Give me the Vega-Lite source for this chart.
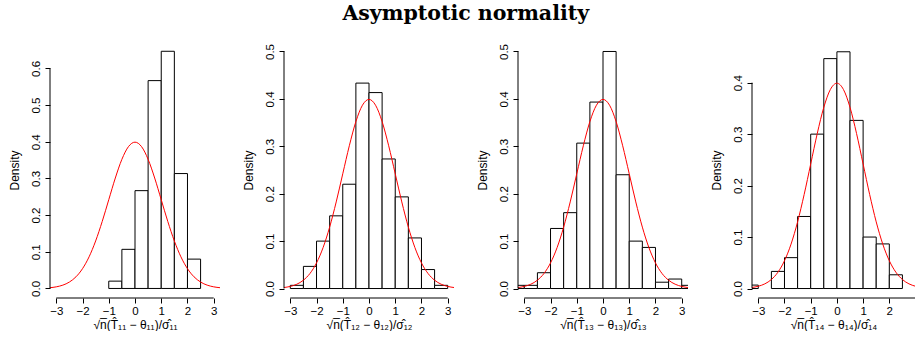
{
  "$schema": "https://vega.github.io/schema/vega-lite/v6.json",
  "padding": {"left": 8, "top": 3, "right": 0, "bottom": 0},
  "spacing": 64,
  "bounds": "flush",
  "title": {"text": "Asymptotic normality", "font": "DejaVu Serif", "fontSize": 20.5, "fontWeight": "bold", "color": "black", "anchor": "middle", "offset": 18, "dx": 4},
  "config": {"view": {"stroke": null}},
  "datasets": {
    "bars": [
      {"panel": 1, "lo": -1, "hi": -0.5, "density": 0.02},
      {"panel": 1, "lo": -0.5, "hi": 0, "density": 0.1067},
      {"panel": 1, "lo": 0, "hi": 0.5, "density": 0.2667},
      {"panel": 1, "lo": 0.5, "hi": 1, "density": 0.5667},
      {"panel": 1, "lo": 1, "hi": 1.5, "density": 0.6467},
      {"panel": 1, "lo": 1.5, "hi": 2, "density": 0.3133},
      {"panel": 1, "lo": 2, "hi": 2.5, "density": 0.08},
      {"panel": 2, "lo": -3, "hi": -2.5, "density": 0.0067},
      {"panel": 2, "lo": -2.5, "hi": -2, "density": 0.0467},
      {"panel": 2, "lo": -2, "hi": -1.5, "density": 0.1},
      {"panel": 2, "lo": -1.5, "hi": -1, "density": 0.1533},
      {"panel": 2, "lo": -1, "hi": -0.5, "density": 0.22},
      {"panel": 2, "lo": -0.5, "hi": 0, "density": 0.4333},
      {"panel": 2, "lo": 0, "hi": 0.5, "density": 0.4133},
      {"panel": 2, "lo": 0.5, "hi": 1, "density": 0.2733},
      {"panel": 2, "lo": 1, "hi": 1.5, "density": 0.1933},
      {"panel": 2, "lo": 1.5, "hi": 2, "density": 0.1067},
      {"panel": 2, "lo": 2, "hi": 2.5, "density": 0.04},
      {"panel": 2, "lo": 2.5, "hi": 3, "density": 0.0067},
      {"panel": 3, "lo": -3.5, "hi": -3, "density": 0.0067},
      {"panel": 3, "lo": -3, "hi": -2.5, "density": 0.0067},
      {"panel": 3, "lo": -2.5, "hi": -2, "density": 0.0333},
      {"panel": 3, "lo": -2, "hi": -1.5, "density": 0.1267},
      {"panel": 3, "lo": -1.5, "hi": -1, "density": 0.16},
      {"panel": 3, "lo": -1, "hi": -0.5, "density": 0.3067},
      {"panel": 3, "lo": -0.5, "hi": 0, "density": 0.3933},
      {"panel": 3, "lo": 0, "hi": 0.5, "density": 0.5},
      {"panel": 3, "lo": 0.5, "hi": 1, "density": 0.24},
      {"panel": 3, "lo": 1, "hi": 1.5, "density": 0.1},
      {"panel": 3, "lo": 1.5, "hi": 2, "density": 0.0867},
      {"panel": 3, "lo": 2, "hi": 2.5, "density": 0.0133},
      {"panel": 3, "lo": 2.5, "hi": 3, "density": 0.02},
      {"panel": 3, "lo": 3, "hi": 3.5, "density": 0.0067},
      {"panel": 4, "lo": -3.5, "hi": -3, "density": 0.0067},
      {"panel": 4, "lo": -2.5, "hi": -2, "density": 0.0333},
      {"panel": 4, "lo": -2, "hi": -1.5, "density": 0.06},
      {"panel": 4, "lo": -1.5, "hi": -1, "density": 0.14},
      {"panel": 4, "lo": -1, "hi": -0.5, "density": 0.3},
      {"panel": 4, "lo": -0.5, "hi": 0, "density": 0.4467},
      {"panel": 4, "lo": 0, "hi": 0.5, "density": 0.46},
      {"panel": 4, "lo": 0.5, "hi": 1, "density": 0.3267},
      {"panel": 4, "lo": 1, "hi": 1.5, "density": 0.1},
      {"panel": 4, "lo": 1.5, "hi": 2, "density": 0.0867},
      {"panel": 4, "lo": 2, "hi": 2.5, "density": 0.0267}
    ],
    "curve": [
      {"x": -3.5, "y": 0.00087}, {"x": -3.25, "y": 0.00203}, {"x": -3, "y": 0.00443}, {"x": -2.75, "y": 0.00909},
      {"x": -2.5, "y": 0.01753}, {"x": -2.25, "y": 0.03174}, {"x": -2, "y": 0.05399}, {"x": -1.75, "y": 0.08628},
      {"x": -1.5, "y": 0.12952}, {"x": -1.25, "y": 0.18265}, {"x": -1, "y": 0.24197}, {"x": -0.75, "y": 0.30114},
      {"x": -0.5, "y": 0.35207}, {"x": -0.25, "y": 0.38667}, {"x": 0, "y": 0.39894}, {"x": 0.25, "y": 0.38667},
      {"x": 0.5, "y": 0.35207}, {"x": 0.75, "y": 0.30114}, {"x": 1, "y": 0.24197}, {"x": 1.25, "y": 0.18265},
      {"x": 1.5, "y": 0.12952}, {"x": 1.75, "y": 0.08628}, {"x": 2, "y": 0.05399}, {"x": 2.25, "y": 0.03174},
      {"x": 2.5, "y": 0.01753}, {"x": 2.75, "y": 0.00909}, {"x": 3, "y": 0.00443}, {"x": 3.25, "y": 0.00203},
      {"x": 3.5, "y": 0.00087}
    ]
  },
  "hconcat": [
    {
      "width": 170, "height": 256,
      "resolve": {"axis": {"x": "independent", "y": "independent"}},
      "layer": [
        {
          "data": {"name": "bars"}, "transform": [{"filter": "datum.panel == 1"}],
          "mark": {"type": "rect", "fill": "white", "stroke": "black", "strokeWidth": 1, "clip": true},
          "encoding": {
            "x": {"field": "lo", "type": "quantitative", "scale": {"domain": [-3.24, 3.24], "nice": false, "zero": false}, "axis": {"values": [-3, -2, -1, 0, 1, 2, 3], "labelOverlap": false, "labelFlush": false, "labelFont": "Liberation Sans", "labelFontSize": 11.5, "labelColor": "black", "labelPadding": 2, "tickColor": "black", "tickSize": 5, "domain": false, "grid": false, "titleFont": "Liberation Sans", "titleFontSize": 12, "titleFontWeight": "normal", "titleColor": "black", "titlePadding": 3, "title": "√n̅(T̂₁₁ − θ₁₁)/σ̂₁₁"}},
            "x2": {"field": "hi"},
            "y": {"field": "density", "type": "quantitative", "scale": {"domain": [-0.026, 0.672], "nice": false, "zero": false}, "axis": {"values": [0, 0.1, 0.2, 0.3, 0.4, 0.5, 0.6], "format": ".1f", "labelAngle": -90, "labelOverlap": false, "labelFlush": false, "labelFont": "Liberation Sans", "labelFontSize": 11.5, "labelColor": "black", "labelPadding": 4, "tickColor": "black", "tickSize": 5, "domain": false, "grid": false, "titleFont": "Liberation Sans", "titleFontSize": 12, "titleFontWeight": "normal", "titleColor": "black", "titlePadding": 9, "title": "Density"}},
            "y2": {"datum": 0}
          }
        },
        {
          "data": {"name": "curve"},
          "mark": {"type": "line", "color": "red", "strokeWidth": 1, "clip": true, "interpolate": "monotone"},
          "encoding": {"x": {"field": "x", "type": "quantitative", "axis": null}, "y": {"field": "y", "type": "quantitative", "axis": null}}
        },
        {
          "data": {"values": [{}]},
          "mark": {"type": "rule", "color": "black", "strokeWidth": 1},
          "encoding": {"x": {"datum": -3, "axis": null}, "x2": {"datum": 3}, "y": {"datum": -0.026, "axis": null}}
        },
        {
          "data": {"values": [{}]},
          "mark": {"type": "rule", "color": "black", "strokeWidth": 1},
          "encoding": {"x": {"datum": -3.24, "axis": null}, "y": {"datum": 0, "axis": null}, "y2": {"datum": 0.6}}
        }
      ]
    },
    {
      "width": 170, "height": 256,
      "resolve": {"axis": {"x": "independent", "y": "independent"}},
      "layer": [
        {
          "data": {"name": "bars"}, "transform": [{"filter": "datum.panel == 2"}],
          "mark": {"type": "rect", "fill": "white", "stroke": "black", "strokeWidth": 1, "clip": true},
          "encoding": {
            "x": {"field": "lo", "type": "quantitative", "scale": {"domain": [-3.24, 3.24], "nice": false, "zero": false}, "axis": {"values": [-3, -2, -1, 0, 1, 2, 3], "labelOverlap": false, "labelFlush": false, "labelFont": "Liberation Sans", "labelFontSize": 11.5, "labelColor": "black", "labelPadding": 2, "tickColor": "black", "tickSize": 5, "domain": false, "grid": false, "titleFont": "Liberation Sans", "titleFontSize": 12, "titleFontWeight": "normal", "titleColor": "black", "titlePadding": 3, "title": "√n̅(T̂₁₂ − θ₁₂)/σ̂₁₂"}},
            "x2": {"field": "hi"},
            "y": {"field": "density", "type": "quantitative", "scale": {"domain": [-0.02, 0.52], "nice": false, "zero": false}, "axis": {"values": [0, 0.1, 0.2, 0.3, 0.4, 0.5], "format": ".1f", "labelAngle": -90, "labelOverlap": false, "labelFlush": false, "labelFont": "Liberation Sans", "labelFontSize": 11.5, "labelColor": "black", "labelPadding": 4, "tickColor": "black", "tickSize": 5, "domain": false, "grid": false, "titleFont": "Liberation Sans", "titleFontSize": 12, "titleFontWeight": "normal", "titleColor": "black", "titlePadding": 9, "title": "Density"}},
            "y2": {"datum": 0}
          }
        },
        {
          "data": {"name": "curve"},
          "mark": {"type": "line", "color": "red", "strokeWidth": 1, "clip": true, "interpolate": "monotone"},
          "encoding": {"x": {"field": "x", "type": "quantitative", "axis": null}, "y": {"field": "y", "type": "quantitative", "axis": null}}
        },
        {
          "data": {"values": [{}]},
          "mark": {"type": "rule", "color": "black", "strokeWidth": 1},
          "encoding": {"x": {"datum": -3, "axis": null}, "x2": {"datum": 3}, "y": {"datum": -0.02, "axis": null}}
        },
        {
          "data": {"values": [{}]},
          "mark": {"type": "rule", "color": "black", "strokeWidth": 1},
          "encoding": {"x": {"datum": -3.24, "axis": null}, "y": {"datum": 0, "axis": null}, "y2": {"datum": 0.5}}
        }
      ]
    },
    {
      "width": 170, "height": 256,
      "resolve": {"axis": {"x": "independent", "y": "independent"}},
      "layer": [
        {
          "data": {"name": "bars"}, "transform": [{"filter": "datum.panel == 3"}],
          "mark": {"type": "rect", "fill": "white", "stroke": "black", "strokeWidth": 1, "clip": true},
          "encoding": {
            "x": {"field": "lo", "type": "quantitative", "scale": {"domain": [-3.24, 3.24], "nice": false, "zero": false}, "axis": {"values": [-3, -2, -1, 0, 1, 2, 3], "labelOverlap": false, "labelFlush": false, "labelFont": "Liberation Sans", "labelFontSize": 11.5, "labelColor": "black", "labelPadding": 2, "tickColor": "black", "tickSize": 5, "domain": false, "grid": false, "titleFont": "Liberation Sans", "titleFontSize": 12, "titleFontWeight": "normal", "titleColor": "black", "titlePadding": 3, "title": "√n̅(T̂₁₃ − θ₁₃)/σ̂₁₃"}},
            "x2": {"field": "hi"},
            "y": {"field": "density", "type": "quantitative", "scale": {"domain": [-0.02, 0.52], "nice": false, "zero": false}, "axis": {"values": [0, 0.1, 0.2, 0.3, 0.4, 0.5], "format": ".1f", "labelAngle": -90, "labelOverlap": false, "labelFlush": false, "labelFont": "Liberation Sans", "labelFontSize": 11.5, "labelColor": "black", "labelPadding": 4, "tickColor": "black", "tickSize": 5, "domain": false, "grid": false, "titleFont": "Liberation Sans", "titleFontSize": 12, "titleFontWeight": "normal", "titleColor": "black", "titlePadding": 9, "title": "Density"}},
            "y2": {"datum": 0}
          }
        },
        {
          "data": {"name": "curve"},
          "mark": {"type": "line", "color": "red", "strokeWidth": 1, "clip": true, "interpolate": "monotone"},
          "encoding": {"x": {"field": "x", "type": "quantitative", "axis": null}, "y": {"field": "y", "type": "quantitative", "axis": null}}
        },
        {
          "data": {"values": [{}]},
          "mark": {"type": "rule", "color": "black", "strokeWidth": 1},
          "encoding": {"x": {"datum": -3, "axis": null}, "x2": {"datum": 3}, "y": {"datum": -0.02, "axis": null}}
        },
        {
          "data": {"values": [{}]},
          "mark": {"type": "rule", "color": "black", "strokeWidth": 1},
          "encoding": {"x": {"datum": -3.24, "axis": null}, "y": {"datum": 0, "axis": null}, "y2": {"datum": 0.5}}
        }
      ]
    },
    {
      "width": 163, "height": 256,
      "resolve": {"axis": {"x": "independent", "y": "independent"}},
      "layer": [
        {
          "data": {"name": "bars"}, "transform": [{"filter": "datum.panel == 4"}],
          "mark": {"type": "rect", "fill": "white", "stroke": "black", "strokeWidth": 1, "clip": true},
          "encoding": {
            "x": {"field": "lo", "type": "quantitative", "scale": {"domain": [-3.24, 2.98], "nice": false, "zero": false}, "axis": {"values": [-3, -2, -1, 0, 1, 2], "labelOverlap": false, "labelFlush": false, "labelFont": "Liberation Sans", "labelFontSize": 11.5, "labelColor": "black", "labelPadding": 2, "tickColor": "black", "tickSize": 5, "domain": false, "grid": false, "titleFont": "Liberation Sans", "titleFontSize": 12, "titleFontWeight": "normal", "titleColor": "black", "titlePadding": 3, "title": "√n̅(T̂₁₄ − θ₁₄)/σ̂₁₄"}},
            "x2": {"field": "hi"},
            "y": {"field": "density", "type": "quantitative", "scale": {"domain": [-0.0184, 0.479], "nice": false, "zero": false}, "axis": {"values": [0, 0.1, 0.2, 0.3, 0.4], "format": ".1f", "labelAngle": -90, "labelOverlap": false, "labelFlush": false, "labelFont": "Liberation Sans", "labelFontSize": 11.5, "labelColor": "black", "labelPadding": 4, "tickColor": "black", "tickSize": 5, "domain": false, "grid": false, "titleFont": "Liberation Sans", "titleFontSize": 12, "titleFontWeight": "normal", "titleColor": "black", "titlePadding": 9, "title": "Density"}},
            "y2": {"datum": 0}
          }
        },
        {
          "data": {"name": "curve"},
          "mark": {"type": "line", "color": "red", "strokeWidth": 1, "clip": true, "interpolate": "monotone"},
          "encoding": {"x": {"field": "x", "type": "quantitative", "axis": null}, "y": {"field": "y", "type": "quantitative", "axis": null}}
        },
        {
          "data": {"values": [{}]},
          "mark": {"type": "rule", "color": "black", "strokeWidth": 1},
          "encoding": {"x": {"datum": -3, "axis": null}, "x2": {"datum": 2.98}, "y": {"datum": -0.0184, "axis": null}}
        },
        {
          "data": {"values": [{}]},
          "mark": {"type": "rule", "color": "black", "strokeWidth": 1},
          "encoding": {"x": {"datum": -3.24, "axis": null}, "y": {"datum": 0, "axis": null}, "y2": {"datum": 0.4}}
        }
      ]
    }
  ]
}
